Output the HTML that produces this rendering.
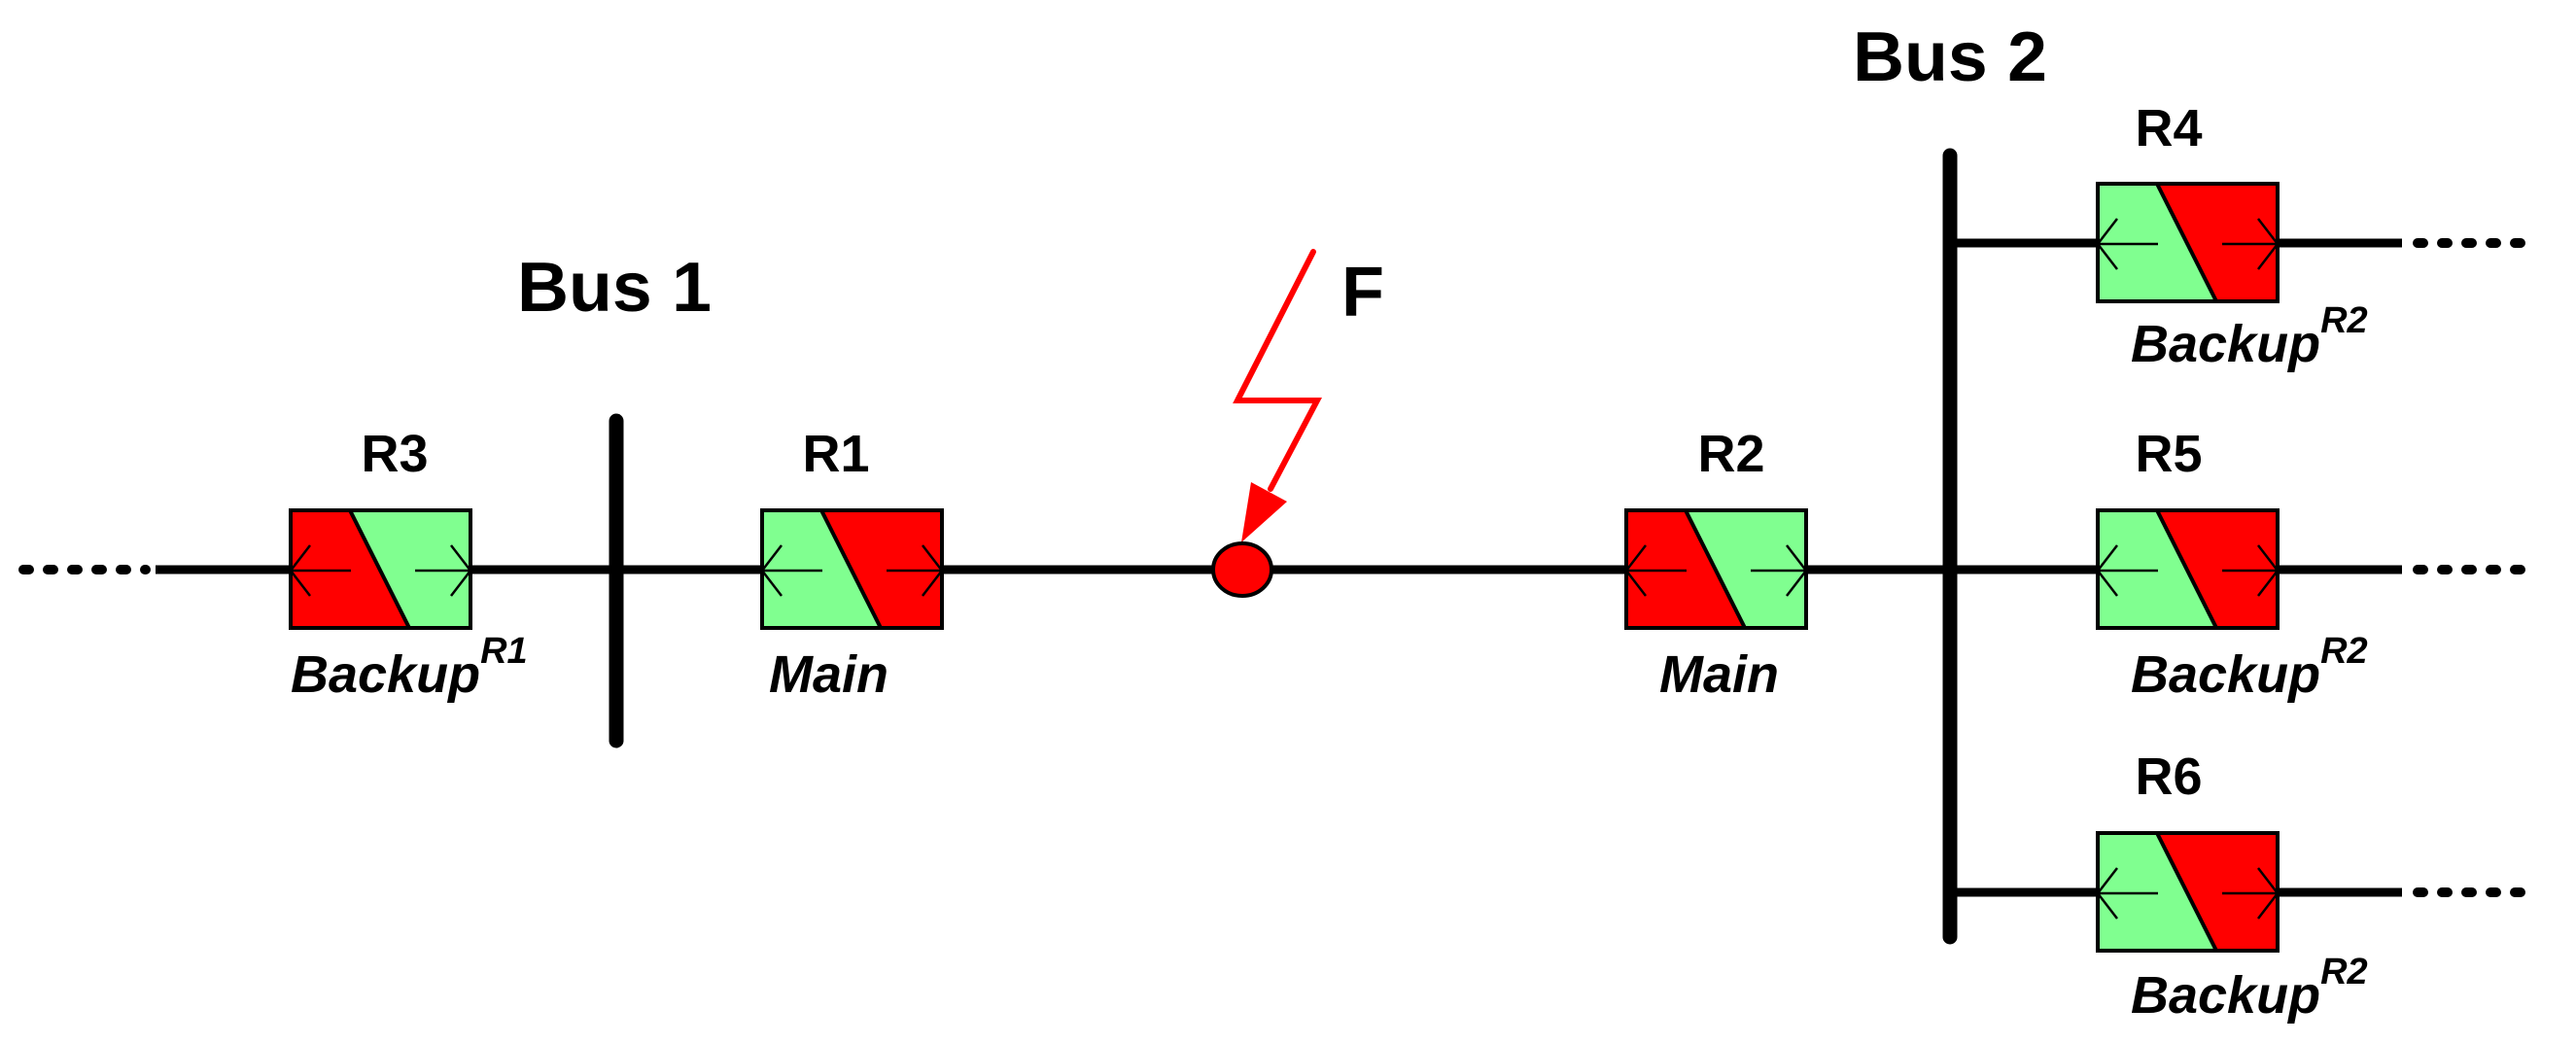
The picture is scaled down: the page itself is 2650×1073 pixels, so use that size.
<!DOCTYPE html>
<html><head><meta charset="utf-8"><style>html,body{margin:0;padding:0;background:#fff}svg{display:block}</style></head>
<body>
<svg width="2650" height="1073" viewBox="0 0 2650 1073" xmlns="http://www.w3.org/2000/svg" font-family="'Liberation Sans', Arial, sans-serif" font-weight="bold">
<defs>
  <g id="boxRG">
    <rect x="0" y="0" width="185" height="121" fill="#ff0000"/>
    <polygon points="61,0 185,0 185,121 122,121" fill="#80ff90"/>
    <line x1="61" y1="0" x2="122" y2="121" stroke="#000" stroke-width="4"/>
    <rect x="0" y="0" width="185" height="121" fill="none" stroke="#000" stroke-width="4"/>
    <line x1="0" y1="62" x2="62" y2="62" stroke="#000" stroke-width="2.5"/>
    <polyline points="20,36 0,62 20,88" fill="none" stroke="#000" stroke-width="2.5"/>
    <line x1="128" y1="62" x2="185" y2="62" stroke="#000" stroke-width="2.5"/>
    <polyline points="165,36 185,62 165,88" fill="none" stroke="#000" stroke-width="2.5"/>
  </g>
  <g id="boxGR">
    <rect x="0" y="0" width="185" height="121" fill="#80ff90"/>
    <polygon points="61,0 185,0 185,121 122,121" fill="#ff0000"/>
    <line x1="61" y1="0" x2="122" y2="121" stroke="#000" stroke-width="4"/>
    <rect x="0" y="0" width="185" height="121" fill="none" stroke="#000" stroke-width="4"/>
    <line x1="0" y1="62" x2="62" y2="62" stroke="#000" stroke-width="2.5"/>
    <polyline points="20,36 0,62 20,88" fill="none" stroke="#000" stroke-width="2.5"/>
    <line x1="128" y1="62" x2="185" y2="62" stroke="#000" stroke-width="2.5"/>
    <polyline points="165,36 185,62 165,88" fill="none" stroke="#000" stroke-width="2.5"/>
  </g>
</defs>

<!-- main line -->
<line x1="24" y1="586" x2="150" y2="586" stroke="#000" stroke-width="10" stroke-linecap="round" stroke-dasharray="6 19"/>
<line x1="160" y1="586" x2="2010" y2="586" stroke="#000" stroke-width="9"/>
<line x1="2010" y1="586" x2="2471" y2="586" stroke="#000" stroke-width="9"/>
<line x1="2010" y1="250" x2="2471" y2="250" stroke="#000" stroke-width="9"/>
<line x1="2010" y1="918" x2="2471" y2="918" stroke="#000" stroke-width="9"/>
<line x1="2487" y1="586" x2="2611" y2="586" stroke="#000" stroke-width="10" stroke-linecap="round" stroke-dasharray="6 19"/>
<line x1="2487" y1="250" x2="2611" y2="250" stroke="#000" stroke-width="10" stroke-linecap="round" stroke-dasharray="6 19"/>
<line x1="2487" y1="918" x2="2611" y2="918" stroke="#000" stroke-width="10" stroke-linecap="round" stroke-dasharray="6 19"/>

<!-- buses -->
<line x1="634" y1="433" x2="634" y2="762" stroke="#000" stroke-width="15" stroke-linecap="round"/>
<line x1="2006" y1="160" x2="2006" y2="964" stroke="#000" stroke-width="15" stroke-linecap="round"/>

<!-- boxes -->
<use href="#boxRG" x="299" y="525"/>
<use href="#boxGR" x="784" y="525"/>
<use href="#boxRG" x="1673" y="525"/>
<use href="#boxGR" x="2158" y="189"/>
<use href="#boxGR" x="2158" y="525"/>
<use href="#boxGR" x="2158" y="857"/>

<!-- fault -->
<polyline points="1351,259 1273,412 1355,412 1307,503" fill="none" stroke="#ff0000" stroke-width="6" stroke-linejoin="miter" stroke-linecap="round"/>
<polygon points="1287,496 1324,516 1277,558" fill="#ff0000"/>
<ellipse cx="1278" cy="586" rx="30" ry="27" fill="#ff0000" stroke="#000" stroke-width="4"/>

<!-- labels -->
<g font-size="72" fill="#000">
  <text x="532" y="320" textLength="200" lengthAdjust="spacingAndGlyphs">Bus 1</text>
  <text x="1906" y="83" textLength="200" lengthAdjust="spacingAndGlyphs">Bus 2</text>
  <text x="1380" y="325">F</text>
</g>
<g font-size="54" fill="#000" text-anchor="middle">
  <text x="406" y="485">R3</text>
  <text x="860" y="485">R1</text>
  <text x="1781" y="485">R2</text>
  <text x="2231" y="150">R4</text>
  <text x="2231" y="485">R5</text>
  <text x="2231" y="817">R6</text>
</g>
<g font-size="54" font-style="italic" fill="#000">
  <text x="299" y="712">Backup<tspan font-size="38" dy="-30">R1</tspan></text>
  <text x="791" y="712">Main</text>
  <text x="1707" y="712">Main</text>
  <text x="2192" y="372">Backup<tspan font-size="38" dy="-30">R2</tspan></text>
  <text x="2192" y="712">Backup<tspan font-size="38" dy="-30">R2</tspan></text>
  <text x="2192" y="1042">Backup<tspan font-size="38" dy="-30">R2</tspan></text>
</g>
</svg>
</body></html>
